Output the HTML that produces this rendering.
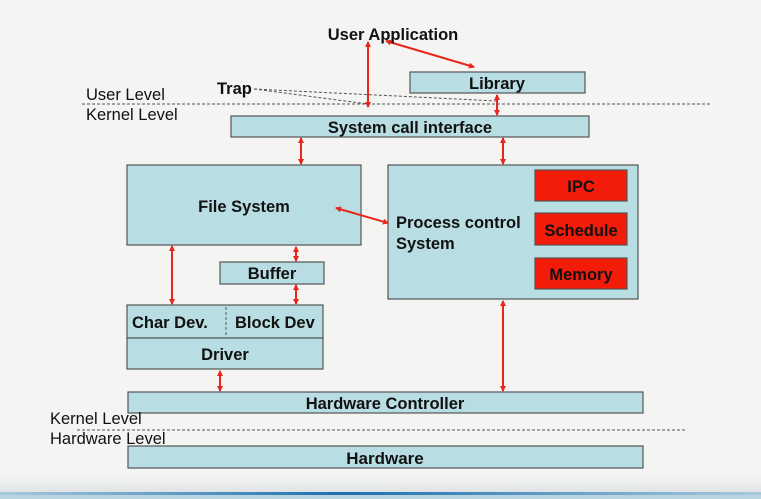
<!DOCTYPE html>
<html><head><meta charset="utf-8"><style>
html,body{margin:0;padding:0;width:761px;height:499px;overflow:hidden;background:#f4f4f3}
svg{display:block}
text{font-family:"Liberation Sans",Arial,sans-serif;font-weight:bold;fill:#111}
</style></head><body>
<svg width="761" height="499" viewBox="0 0 761 499" xmlns="http://www.w3.org/2000/svg">
<defs>
<marker id="a" markerWidth="6" markerHeight="6" refX="5" refY="3" orient="auto-start-reverse" markerUnits="userSpaceOnUse">
<path d="M0,0 L6,3 L0,6 z" fill="#e8261c"/></marker>
<linearGradient id="bar" x1="0" x2="1" y1="0" y2="0">
<stop offset="0" stop-color="#a9c9dc"/><stop offset="0.45" stop-color="#1c6fae"/><stop offset="1" stop-color="#a9c9dc"/></linearGradient>
<linearGradient id="fade" x1="0" x2="0" y1="0" y2="1">
<stop offset="0" stop-color="#f4f4f3" stop-opacity="0"/><stop offset="1" stop-color="#dfe3e5"/></linearGradient>
</defs>
<rect x="0" y="470" width="761" height="22" fill="url(#fade)"/>
<rect x="0" y="492" width="761" height="3" fill="url(#bar)"/>
<rect x="0" y="495" width="761" height="4" fill="#b9d4e0"/>

<g stroke="#555" stroke-width="1" stroke-dasharray="3,2" fill="none">
<line x1="82" y1="104" x2="712" y2="104"/>
<line x1="77" y1="430" x2="685" y2="430"/>
<line x1="254" y1="89" x2="368" y2="104"/>
<line x1="254" y1="89" x2="497" y2="101"/>
</g>

<g fill="#b8dde3" stroke="#555" stroke-width="1.2">
<rect x="410" y="72" width="175" height="21"/>
<rect x="231" y="116" width="358" height="21"/>
<rect x="127" y="165" width="234" height="80"/>
<rect x="388" y="165" width="250" height="134"/>
<rect x="220" y="262" width="104" height="22"/>
<rect x="127" y="305" width="196" height="33"/>
<rect x="127" y="338" width="196" height="31"/>
<rect x="128" y="392" width="515" height="21"/>
<rect x="128" y="446" width="515" height="22"/>
</g>
<line x1="226" y1="307" x2="226" y2="337" stroke="#555" stroke-dasharray="3,2"/>
<g fill="#f31b0a" stroke="#555" stroke-width="1.2">
<rect x="535" y="170" width="92" height="31"/>
<rect x="535" y="213" width="92" height="32"/>
<rect x="535" y="258" width="92" height="31"/>
</g>

<g stroke="#e8261c" stroke-width="2" marker-start="url(#a)" marker-end="url(#a)">
<line x1="368" y1="42" x2="368" y2="107"/>
<line x1="386" y1="41" x2="474" y2="67"/>
<line x1="497" y1="95" x2="497" y2="115"/>
<line x1="301" y1="138" x2="301" y2="164"/>
<line x1="503" y1="138" x2="503" y2="164"/>
<line x1="336" y1="208" x2="388" y2="223"/>
<line x1="172" y1="246" x2="172" y2="304"/>
<line x1="296" y1="247" x2="296" y2="261"/>
<line x1="296" y1="285" x2="296" y2="304"/>
<line x1="220" y1="371" x2="220" y2="391"/>
<line x1="503" y1="301" x2="503" y2="391"/>
</g>

<g font-size="16.5" text-anchor="middle">
<text x="393" y="40">User Application</text>
<text x="497" y="89">Library</text>
<text x="410" y="133">System call interface</text>
<text x="244" y="212">File System</text>
<text x="272" y="279">Buffer</text>
<text x="225" y="360">Driver</text>
<text x="385" y="409">Hardware Controller</text>
<text x="385" y="464" font-size="17">Hardware</text>
<text x="581" y="192">IPC</text>
<text x="581" y="236">Schedule</text>
<text x="581" y="280">Memory</text>
</g>
<g font-size="16.5">
<text x="132" y="328">Char Dev.</text>
<text x="235" y="328">Block Dev</text>
<text x="396" y="228">Process control</text>
<text x="396" y="249">System</text>
<text x="217" y="94">Trap</text>
</g>
<g font-size="16.5">
<text x="86" y="100" style="font-weight:normal">User Level</text>
<text x="86" y="120" style="font-weight:normal">Kernel Level</text>
<text x="50" y="424" style="font-weight:normal">Kernel Level</text>
<text x="50" y="444" style="font-weight:normal">Hardware Level</text>
</g>
</svg>
</body></html>
